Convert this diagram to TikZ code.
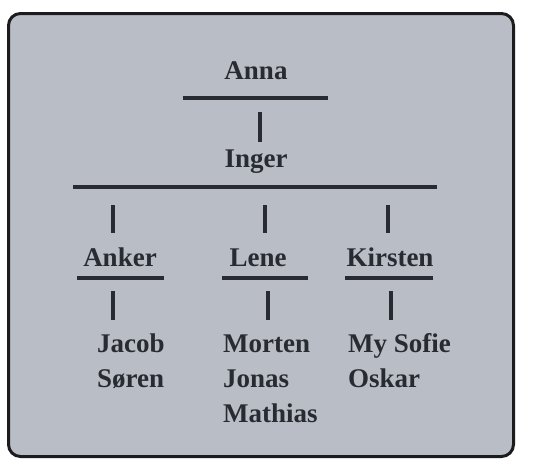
\documentclass[tikz,border=0pt]{standalone}
\usepackage{fontspec}
\setmainfont{Liberation Serif}[BoldFont={Liberation Serif Bold}]
\usetikzlibrary{positioning,calc}
\definecolor{Panel}{RGB}{185,190,198}
\definecolor{Ink}{RGB}{40,44,50}
\definecolor{Frame}{RGB}{28,28,30}

\begin{document}
\begin{tikzpicture}[x=1pt,y=-1pt,
    person/.style={font=\fontsize{27}{35}\selectfont\bfseries,text=Ink,inner sep=0pt,anchor=base},
    kid/.style={person,anchor=base west},
    bar/.style={Ink,line width=3.6pt},
    tick/.style={Ink,line width=3.6pt}]
  \useasboundingbox (0,0) rectangle (550,459);
  \draw[Frame,line width=3pt,fill=Panel,rounded corners=12pt] (8.5,13.5) rectangle (513.5,456.5);
  % generations
  \node[person] (anna) at (256,79) {Anna};
  \node[person] (inger) at (256,167) {Inger};
  \node[person] (anker) at (120,266) {Anker};
  \node[person] (lene) at (258,266) {Lene};
  \node[person] (kirsten) at (390,266) {Kirsten};
  % grandchildren
  \node[kid] (jacob) at (97,352) {Jacob};
  \node[kid] (soren) at (97,387) {Søren};
  \node[kid] (morten) at (223,352) {Morten};
  \node[kid] (jonas) at (223,387) {Jonas};
  \node[kid] (mathias) at (223,422) {Mathias};
  \node[kid] (mysofie) at (348,352) {My Sofie};
  \node[kid] (oskar) at (348,387) {Oskar};
  % bars and ticks
  \draw[bar] (183,98) -- (328,98);
  \draw[tick] (260,112) -- (260,142);
  \draw[bar] (73,187) -- (437,187);
  \draw[tick] (113,205) -- (113,233);
  \draw[tick] (265,205) -- (265,233);
  \draw[tick] (388,205) -- (388,233);
  \draw[bar] (77,278) -- (164,278);
  \draw[bar] (222,278) -- (308,278);
  \draw[bar] (345,278) -- (433,278);
  \draw[tick] (113,291) -- (113,320);
  \draw[tick] (268,291) -- (268,320);
  \draw[tick] (391,291) -- (391,320);
\end{tikzpicture}
\end{document}
